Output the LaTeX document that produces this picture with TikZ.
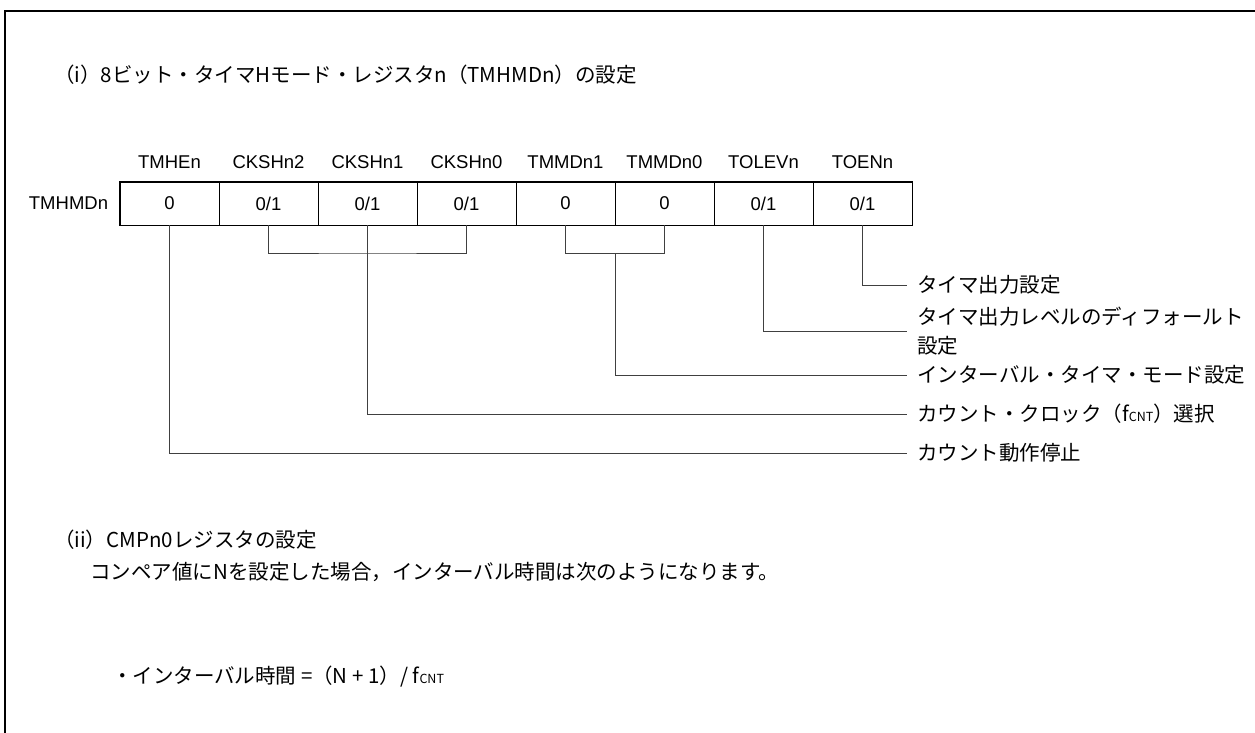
\documentclass[tikz,border=0pt]{standalone}
\usepackage{fontspec}
\setmainfont{Liberation Sans}
\newfontfamily\jp{Noto Sans CJK JP}
\usetikzlibrary{positioning,calc}
\newcommand\fcnt{f{\fontsize{12.5}{12.5}\selectfont CNT}}
\tikzset{
  cell/.style={draw,line width=.8pt,minimum width=99pt,minimum height=43pt,inner sep=0pt,font=\fontsize{18.5}{21}\selectfont},
  bitname/.style={font=\fontsize{18.5}{21}\selectfont},
  jtext/.style={font=\jp\fontsize{20.5}{29}\selectfont,anchor=west,inner sep=0pt},
  desc/.style={jtext,inner xsep=10pt,align=left},
  lead/.style={draw=black!75,line width=.9pt}
}
\begin{document}
\begin{tikzpicture}[x=1pt,y=-1pt]
\useasboundingbox (0,0) rectangle (1255,733);
\draw[line width=2pt] (5,733) -- (5,11) -- (1255,11);
\node[jtext] (title) at (54,75) {（i）8ビット・タイマHモード・レジスタn（TMHMDn）の設定};
% register TMHMDn
\foreach \i/\b/\v in {0/TMHEn/0,1/CKSHn2/{0/1},2/CKSHn1/{0/1},3/CKSHn0/{0/1},4/TMMDn1/0,5/TMMDn0/0,6/TOLEVn/{0/1},7/TOENn/{0/1}}{
  \node[cell] (c\i) at (169.5+99*\i,203.5) {\v};
  \node[bitname] (h\i) at (169.5+99*\i,162) {\b};
}
\draw[line width=1.8pt] (c0.north west) rectangle (c7.south east);
\node[bitname,left=8pt of c0] (reg) {TMHMDn};
% descriptions
\node[desc] (d7) at (907,285) {タイマ出力設定};
\node[desc] (d6) at (907,331) {タイマ出力レベルのディフォールト\\設定};
\node[desc] (d45) at (907,375) {インターバル・タイマ・モード設定};
\node[desc] (d123) at (907,414) {カウント・クロック（\fcnt）選択};
\node[desc] (d0) at (907,453) {カウント動作停止};
\coordinate (ck) at (c2.south |- 0,253);
\coordinate (tm) at ($(c4.south)!.5!(c5.south)+(0,28)$);
\draw[lead] (c1.south) |- (ck) -| (c3.south);
\draw[lead] (c2.south) |- (d123.west);
\draw[lead] (c4.south) |- (tm) -| (c5.south);
\draw[lead] (tm) |- (d45.west);
\draw[lead] (c6.south) |- (d6.west);
\draw[lead] (c7.south) |- (d7.west);
\draw[lead] (c0.south) |- (d0.west);
% CMPn0
\node[jtext] (sec2) at (54,540) {（ii）CMPn0レジスタの設定};
\node[jtext] (note) at (90,572) {コンペア値にNを設定した場合，インターバル時間は次のようになります。};
\node[jtext] (formula) at (112,677) {・インターバル時間 =（N + 1）/ \fcnt};
\end{tikzpicture}
\end{document}
